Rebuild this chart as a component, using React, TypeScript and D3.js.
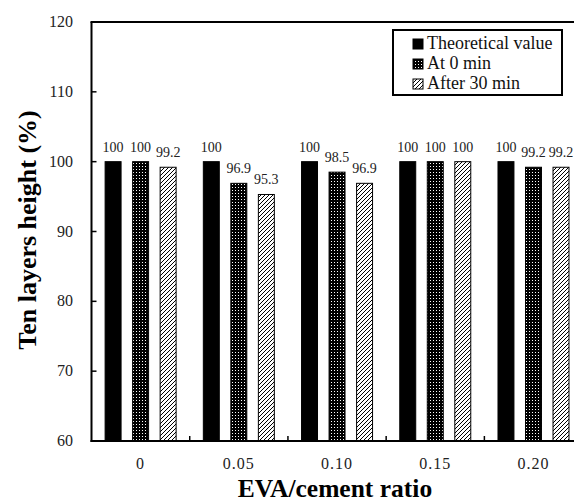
import React from "react";
import * as d3 from "d3";

const categories = ["0", "0.05", "0.10", "0.15", "0.20"];
const seriesNames = ["Theoretical value", "At 0 min", "After 30 min"];
const theoretical = [100, 100, 100, 100, 100];
const at0 = [100, 96.9, 98.5, 100, 99.2];
const after30 = [99.2, 95.3, 96.9, 100, 99.2];
const yTicks = [60, 70, 80, 90, 100, 110, 120];

const W = 574;
const H = 502;
const left = 91.5;
const right = 582.6;
const top = 22;
const bottom = 441;
const serif = "Times New Roman, Liberation Serif, Times, Tinos, serif";

export default function App() {
  const x = d3.scaleBand<string>().domain(categories).range([left, right]).paddingInner(0).paddingOuter(0);
  const inner = d3.scaleBand<number>().domain([0, 1, 2]).range([-35.5, 35.5]).paddingInner(0.42).paddingOuter(0);
  const y = d3.scaleLinear().domain([60, 120]).range([bottom, top]);
  const series = [theoretical, at0, after30];
  const fills = ["#000", "url(#dots)", "url(#hatch)"];
  const fmt = (v: number) => (Number.isInteger(v) ? String(v) : v.toFixed(1));

  return (
    <svg width={W} height={H} style={{ position: "absolute", left: 0, top: 0, background: "#fff" }}>
      <defs>
        <pattern id="dots" width="3" height="3" patternUnits="userSpaceOnUse">
          <rect width="3" height="3" fill="#000" />
          <rect x="1" y="1" width="1" height="1" fill="#fff" />
        </pattern>
        <pattern id="hatch" width="4" height="4" patternUnits="userSpaceOnUse">
          <rect width="4" height="4" fill="#fff" />
          <path d="M-1,1 l2,-2 M0,4 l4,-4 M3,5 l2,-2" stroke="#000" strokeWidth="1" />
        </pattern>
      </defs>

      {/* bars */}
      {categories.map((c, i) => (
        <g key={c}>
          {series.map((s, k) => {
            const bx = x(c)! + x.bandwidth() / 2 + inner(k)!;
            const bw = inner.bandwidth();
            return (
              <g key={k}>
                <rect x={bx} y={y(s[i])} width={bw} height={bottom - y(s[i])} fill={fills[k]} stroke="#000" strokeWidth={1} />
                <text x={bx + bw / 2} y={y(s[i]) - 10} textAnchor="middle" fontFamily={serif} fontSize={14} fill="#222">
                  {fmt(s[i])}
                </text>
              </g>
            );
          })}
        </g>
      ))}

      {/* category separator ticks */}
      {categories.slice(1).map((c) => (
        <line key={c} x1={x(c)!} x2={x(c)!} y1={bottom} y2={bottom - 5} stroke="#000" strokeWidth={1.5} />
      ))}

      {/* axes frame */}
      <line x1={left} x2={left} y1={top} y2={bottom + 1} stroke="#000" strokeWidth={2} />
      <line x1={left - 1} x2={W} y1={top} y2={top} stroke="#000" strokeWidth={2} />
      <line x1={left - 1} x2={W} y1={bottom} y2={bottom} stroke="#000" strokeWidth={2} />

      {/* y ticks */}
      {yTicks.map((t) => (
        <g key={t}>
          <line x1={left} x2={left + 5} y1={y(t)} y2={y(t)} stroke="#000" strokeWidth={1.5} />
          <text x={73} y={y(t) + 5} textAnchor="end" fontFamily={serif} fontSize={16} fill="#222">
            {t}
          </text>
        </g>
      ))}

      {/* x tick labels */}
      {categories.map((c) => (
        <text key={c} x={x(c)! + x.bandwidth() / 2} y={469} textAnchor="middle" fontFamily={serif} fontSize={16} letterSpacing={1} fill="#222">
          {c}
        </text>
      ))}

      {/* axis titles */}
      <text x={335} y={497} textAnchor="middle" fontFamily={serif} fontSize={25.5} fontWeight="bold" fill="#000">
        EVA/cement ratio
      </text>
      <text transform="translate(36,230) rotate(-90)" textAnchor="middle" fontFamily={serif} fontSize={26} fontWeight="bold" fill="#000">
        Ten layers height (%)
      </text>

      {/* legend */}
      <rect x={393} y={30} width={169} height={65} fill="#fff" stroke="#000" strokeWidth={2} />
      {seriesNames.map((n, k) => (
        <g key={n}>
          <rect x={413} y={39 + k * 20} width={10} height={10} fill={fills[k]} stroke="#000" strokeWidth={1} />
          <text x={427} y={49 + k * 20} fontFamily={serif} fontSize={18} fill="#111">
            {n}
          </text>
        </g>
      ))}
    </svg>
  );
}
